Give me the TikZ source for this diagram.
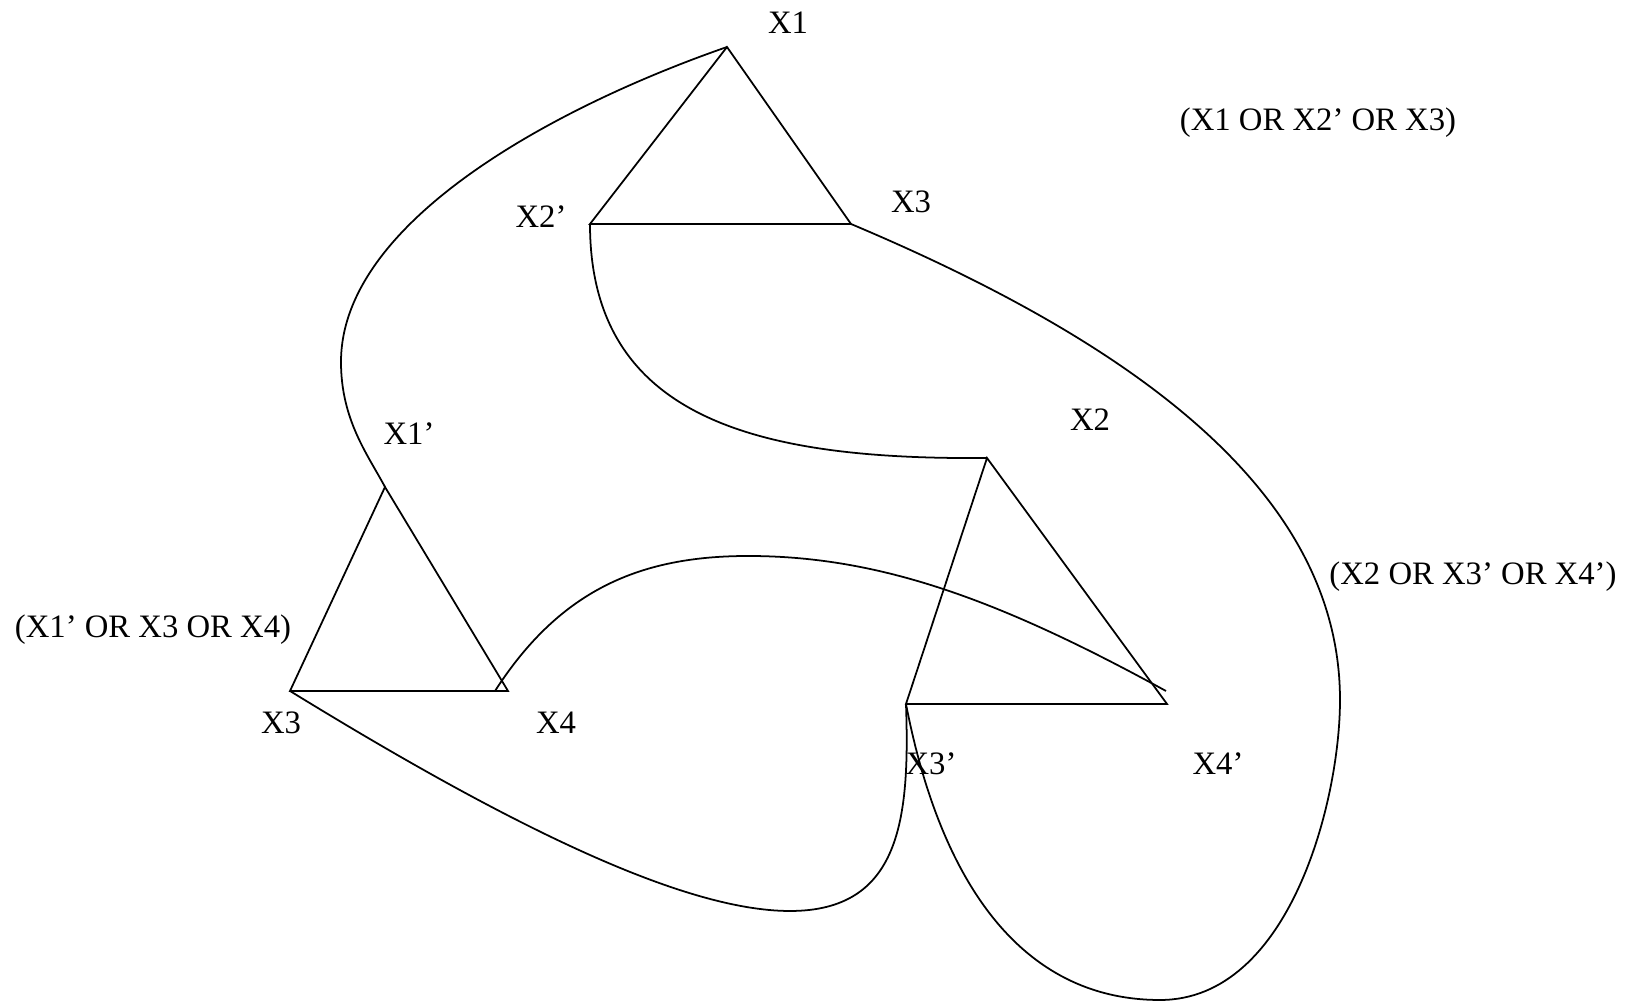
\documentclass[tikz,border=0pt]{standalone}
\usepackage{fontspec}
\setmainfont{Liberation Serif}
\usepackage{tikz}
\usetikzlibrary{calc}

\begin{document}
\begin{tikzpicture}[
    x=0.01cm, y=-0.01cm,
    % --- Styles ---
    edge/.style={line width=0.5pt, line join=miter},
    vlabel/.style={font=\fontsize{9.3}{11}\selectfont, inner sep=0pt, anchor=base},
    clause/.style={vlabel},
]
\useasboundingbox (0,0) rectangle (1629,1001);

% === Triangle vertices ===
\coordinate (a1) at (727,47);   % X1
\coordinate (a2) at (590,224);  % X2'
\coordinate (a3) at (851,224);  % X3
\coordinate (b1) at (385,487);  % X1'
\coordinate (b3) at (290,691);  % X3
\coordinate (b4) at (508,691);  % X4
\coordinate (c2) at (987,458);  % X2
\coordinate (c3) at (906,704);  % X3'
\coordinate (c4) at (1167,704); % X4'
\coordinate (x4s) at (495,691);
\coordinate (x4e) at (1166,691);

% === Triangles ===
\draw[edge] (a1) -- (a2) -- (a3) -- cycle;
\draw[edge] (b1) -- (b3) -- (b4) -- cycle;
\draw[edge] (c2) -- (c3) -- (c4) -- cycle;

% === Connecting curves ===
\draw[edge] (a1) .. controls (560,105) and (341,220) .. (341,362)
                 .. controls (341,420) and (368,455) .. (b1);
\draw[edge] (a2) .. controls (590,420) and (760,460) .. (c2);
\draw[edge] (a3) .. controls (1150,350) and (1340,500) .. (1340,700)
                 .. controls (1340,800) and (1290,1000) .. (1160,1000)
                 .. controls (1020,1000) and (940,880) .. (c3);
\draw[edge] (b3) .. controls (500,820) and (680,911) .. (790,911)
                 .. controls (900,911) and (910,820) .. (c3);
\draw[edge] (x4s) .. controls (560,590) and (640,556) .. (748,556)
                  .. controls (880,556) and (1000,600) .. (x4e);

% === Vertex labels ===
\node[vlabel] (lx1)  at (788,34)  {X1};
\node[vlabel] (lx2n) at (541,228) {X2'};
\node[vlabel] (lx3a) at (911,213) {X3};
\node[vlabel] (lx1n) at (409,445) {X1'};
\node[vlabel] (lx3b) at (281,734) {X3};
\node[vlabel] (lx4)  at (556,734) {X4};
\node[vlabel] (lx2)  at (1090,431) {X2};
\node[vlabel] (lx3n) at (931,775) {X3'};
\node[vlabel] (lx4n) at (1218,775) {X4'};

% === Clauses ===
\node[clause] (cl1) at (1318,131) {(X1 OR X2' OR X3)};
\node[clause] (cl2) at (153,638)  {(X1' OR X3 OR X4)};
\node[clause] (cl3) at (1473,585) {(X2 OR X3' OR X4')};

\end{tikzpicture}
\end{document}
